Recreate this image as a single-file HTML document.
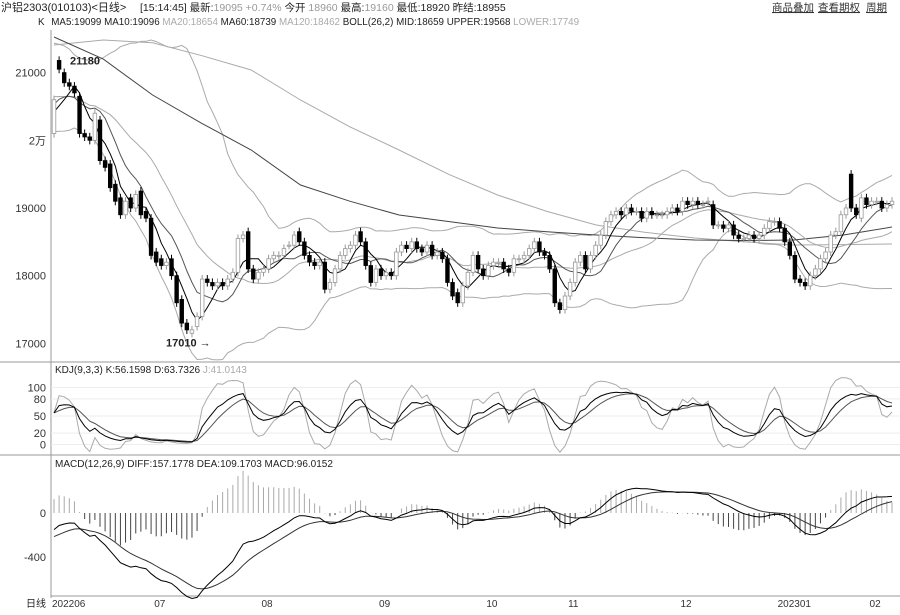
<!DOCTYPE html>
<html><head><meta charset="utf-8"><style>
body{margin:0;background:#fff;font-family:"Liberation Sans","Noto Sans CJK SC",sans-serif}
svg text{font-family:"Liberation Sans","Noto Sans CJK SC",sans-serif}
</style></head><body>
<svg id="c" width="900" height="610" viewBox="0 0 900 610" xmlns="http://www.w3.org/2000/svg">
<rect width="900" height="610" fill="#fff"/>
<text x="1" y="11" font-size="11" fill="#222">沪铝2303(010103)&lt;日线&gt;</text>
<text x="140" y="11" font-size="10.5" fill="#222">[15:14:45] 最新:<tspan fill="#999">19095 +0.74%</tspan> 今开 <tspan fill="#999">18960</tspan> 最高:<tspan fill="#999">19160</tspan> 最低:18920 昨结:18955</text>
<text x="772" y="11" font-size="10.5" fill="#333" text-decoration="underline">商品叠加</text>
<text x="818" y="11" font-size="10.5" fill="#333" text-decoration="underline">查看期权</text>
<text x="866" y="11" font-size="10.5" fill="#333" text-decoration="underline">周期</text>
<text x="38" y="25" font-size="9.8" fill="#222">K <tspan dx="4">MA5:19099 MA10:19096</tspan> <tspan fill="#aaa">MA20:18654</tspan> MA60:18739 <tspan fill="#aaa">MA120:18462</tspan> BOLL(26,2) MID:18659 UPPER:19568 <tspan fill="#aaa">LOWER:17749</tspan></text>
<line x1="51" y1="30" x2="51" y2="598" stroke="#999"/>
<line x1="0" y1="362" x2="900" y2="362" stroke="#999"/>
<line x1="0" y1="455" x2="900" y2="455" stroke="#999"/>
<line x1="51" y1="596" x2="900" y2="596" stroke="#999"/>
<text x="55" y="373" font-size="10" fill="#222">KDJ(9,3,3) K:56.1598 D:63.7326 <tspan fill="#aaa">J:41.0143</tspan></text>
<text x="55" y="467" font-size="10" fill="#222">MACD(12,26,9) DIFF:157.1778 DEA:109.1703 MACD:96.0152</text>
<text x="26" y="607" font-size="10" fill="#222">日线</text>
<g id="g"></g>
</svg>
<script>
const closes=[20600,21050,20850,20800,20700,20100,20050,20000,20400,19700,19600,19300,19100,18900,19100,19000,19200,18900,18850,18300,18200,18150,18200,18000,17600,17300,17200,17200,17400,17950,17900,17850,17900,17850,17950,18050,18550,18600,18100,17950,18050,18100,18250,18300,18300,18400,18450,18600,18500,18300,18200,18150,18200,17800,17900,18100,18300,18400,18450,18600,18500,18150,17900,18100,18000,18050,18000,18350,18450,18400,18500,18400,18350,18450,18300,18350,18250,17900,17700,17600,17850,18050,18300,18100,18000,18150,18200,18200,18100,18050,18250,18250,18300,18400,18500,18350,18300,18100,17600,17500,17700,17900,18200,18300,18100,18300,18450,18600,18800,18900,18950,18900,19000,18950,18950,18850,18950,18900,18900,18900,18950,19000,18950,19100,19050,19100,19050,19050,19100,18750,18750,18700,18750,18600,18550,18550,18600,18550,18600,18700,18800,18800,18700,18500,18300,17950,17900,17850,18000,18100,18250,18350,18600,18650,18900,19000,19000,18900,19150,19050,19100,19100,19000,19050,19100];
const opens=[20100,21180,21000,20850,20800,20650,20100,20050,20000,20300,19700,19650,19350,19150,18900,19150,19000,19250,18950,18850,18350,18250,18150,18250,18000,17650,17300,17150,17250,17400,17950,17900,17850,17900,17850,17950,18050,18550,18650,18100,17950,18050,18100,18250,18300,18300,18450,18450,18650,18500,18300,18200,18150,18200,17800,17900,18100,18300,18400,18450,18650,18500,18150,17900,18100,18000,18050,18000,18350,18450,18400,18500,18400,18350,18450,18300,18350,18250,17900,17750,17600,17850,18050,18300,18100,18000,18150,18200,18200,18100,18050,18250,18250,18300,18400,18500,18350,18300,18100,17600,17500,17700,17900,18200,18300,18100,18300,18450,18600,18800,18900,18950,18900,19000,18950,18950,18850,18950,18900,18900,18900,18950,19000,18950,19100,19050,19100,19050,19100,19050,18750,18750,18700,18750,18600,18550,18550,18600,18550,18600,18700,18800,18800,18700,18500,18300,17950,17900,17850,18000,18100,18250,18350,18600,18650,18900,19500,19000,18850,19150,19050,19100,19100,19000,19050];
const history=[21300,21200,21100,21250,21400,21300,21150,21000,20900,20800,20700,20900,21000,20800,20600,20500,20400,20300,20500,20700,20900,20800,20600,20400,20300,20200];
const ma60Values=[21526,21200,20669,20250,19857,19340,19100,18897,18800,18705,18650,18601,18560,18527,18520,18527,18600,18719];
const ma120Values=[21408,21482,21440,21250,21038,20595,20200,19857,19500,19192,18950,18749,18640,18557,18500,18453,18460,18468];
const priceTicks=[21000,20000,19000,18000,17000];
const priceTickLabels=["21000","2万","19000","18000","17000"];
const kdjTicks=[100,80,50,20,0];
const macdTicks=[0,-400];
const monthLabels=["202206","07","08","09","10","11","12","202301","02"];
const monthIndex=[0,20,41,64,85,101,123,142,160];

const NS="http://www.w3.org/2000/svg",G=document.getElementById('g');
const N=closes.length,X0=54,X1=892;
const xOf=i=>X0+i*(X1-X0)/(N-1);
const yP=p=>208-(p-19000)*0.0677;
const yK=v=>416-(v-50)*0.57;
const yM=v=>513-v*0.11;
function el(t,a){const e=document.createElementNS(NS,t);for(const k in a)e.setAttribute(k,a[k]);G.appendChild(e);return e;}
function line(vals,yf,col,w,nm){let d='';vals.forEach((v,i)=>{if(v==null)return;d+=(d?'L':'M')+xOf(i).toFixed(1)+','+yf(v).toFixed(1);});const p=el('path',{d:d,fill:'none',stroke:col,'stroke-width':w});

}
function sampled(vals,col,nm){let d='';vals.forEach((v,k)=>{const i=k*(N-1)/(vals.length-1);d+=(k?'L':'M')+xOf(i).toFixed(1)+','+yP(v).toFixed(1);});const p=el('path',{d:d,fill:'none',stroke:col,'stroke-width':1});

}
priceTicks.forEach((p,k)=>{const t=el('text',{x:46,y:yP(p)+4,'font-size':11,'text-anchor':'end',fill:'#333'});t.textContent=priceTickLabels[k];

});
kdjTicks.forEach(v=>{const l=el('line',{x1:51,x2:900,y1:yK(v),y2:yK(v),stroke:'#eee'});


const t=el('text',{x:46,y:yK(v)+4,'font-size':11,'text-anchor':'end',fill:'#333'});t.textContent=v;

});
macdTicks.forEach(v=>{const t=el('text',{x:46,y:yM(v)+4,'font-size':11,'text-anchor':'end',fill:'#333'});t.textContent=v;

});
monthLabels.forEach((m,k)=>{const t=el('text',{x:xOf(monthIndex[k])-2,y:607,'font-size':10,fill:'#333'});t.textContent=m;

});
const all=history.concat(closes),H=history.length;
function ma(n){return closes.map((c,i)=>{const j=i+H;let s=0;for(let k=j-n+1;k<=j;k++)s+=all[k];return s/n;});}
const mid=ma(26),up=[],lo=[];
closes.forEach((c,i)=>{const j=i+H;let s=0;for(let k=j-25;k<=j;k++)s+=(all[k]-mid[i])**2;const sd=Math.sqrt(s/26);up.push(mid[i]+2*sd);lo.push(mid[i]-2*sd);});
line(up,yP,'#aaa',1,'boll-upper');line(lo,yP,'#aaa',1,'boll-lower');
sampled(ma120Values,'#aaa','ma120-line');sampled(ma60Values,'#444','ma60-line');
line(ma(20),yP,'#aaa',1,'ma20-line');line(ma(10),yP,'#555',1,'ma10-line');line(ma(5),yP,'#000',1,'ma5-line');
closes.forEach((c,i)=>{const o=opens[i],x=xOf(i),hi=Math.max(o,c)+60,lw=Math.min(o,c)-60;const down=c<o;
const w=el('line',{x1:x,x2:x,y1:yP(hi),y2:yP(lw),stroke:down?'#000':'#999'});


const r=el('rect',{x:x-1.8,width:3.6,y:yP(Math.max(o,c)),height:Math.max(1,Math.abs(yP(o)-yP(c))),fill:down?'#000':'#fff',stroke:down?'#000':'#999','stroke-width':0.8});

});
const a1=el('text',{x:70,y:yP(21180)+4,'font-size':11,'font-weight':'bold',fill:'#222'});a1.textContent='21180';


const a2=el('text',{x:166,y:yP(17010)+4,'font-size':11,'font-weight':'bold',fill:'#222'});a2.textContent='17010 →';


let K=55,D=55;const Ks=[],Ds=[],Js=[];
closes.forEach((c,i)=>{const j=i+H;let h=-1e9,l=1e9;for(let k=j-8;k<=j;k++){h=Math.max(h,all[k]+60);l=Math.min(l,all[k]-60);}const rsv=(c-l)/(h-l)*100;K=(2*K+rsv)/3;D=(2*D+K)/3;Ks.push(K);Ds.push(D);Js.push(3*K-2*D);});
line(Js,yK,'#aaa',1,'kdj-j-line');line(Ds,yK,'#555',1,'kdj-d-line');line(Ks,yK,'#000',1,'kdj-k-line');
let e12=20750,e26=20900,dea=-230;const dif=[],deas=[];
closes.forEach(c=>{e12=e12*11/13+c*2/13;e26=e26*25/27+c*2/27;const df=e12-e26;dea=dea*0.8+df*0.2;dif.push(df);deas.push(dea);});
dif.forEach((d,i)=>{const h=2*(d-deas[i]);const b=el('line',{x1:xOf(i),x2:xOf(i),y1:yM(0),y2:yM(h),stroke:h>=0?'#aaa':'#444'});

});
line(deas,yM,'#333',1,'dea-line');line(dif,yM,'#000',1,'diff-line');
</script>
</body></html>
